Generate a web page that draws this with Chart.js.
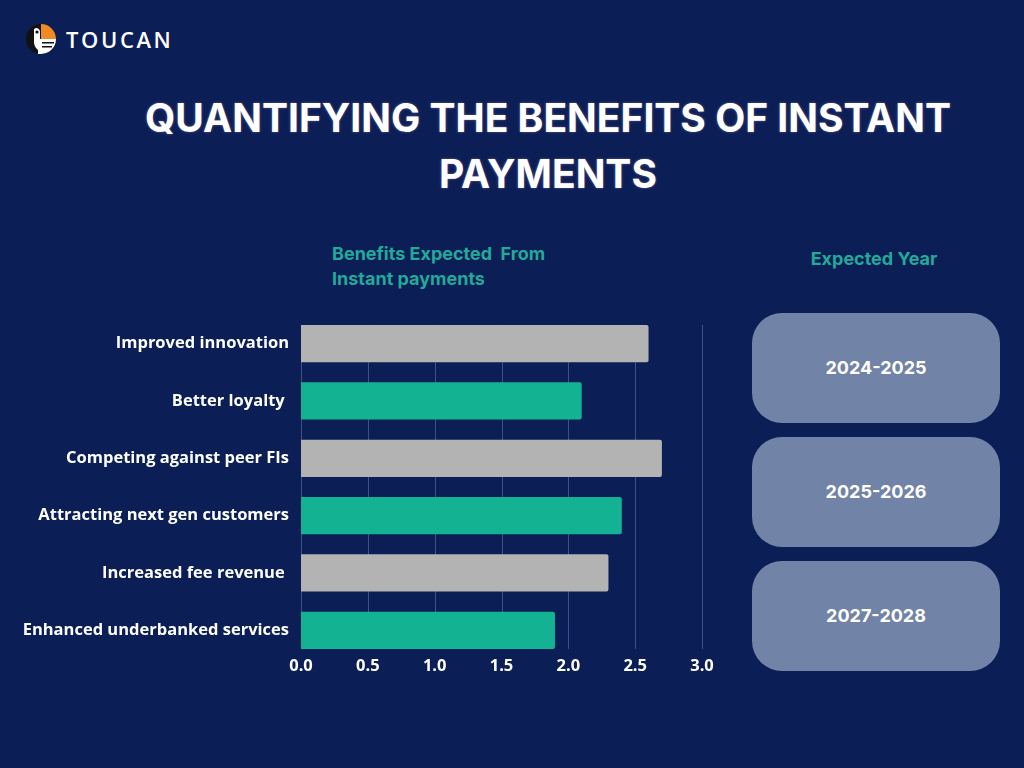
<!DOCTYPE html>
<html>
<head>
<meta charset="utf-8">
<script src="https://cdn.jsdelivr.net/npm/chart.js@4/dist/chart.umd.min.js"></script>
<style>
  html, body { margin:0; padding:0; }
  body { width:1024px; height:768px; background:#0b1e55; position:relative; overflow:hidden; font-family:Inter, "Open Sans", sans-serif; }
  .logo { position:absolute; left:25px; top:23px; width:32px; height:32px; }
  .brand { position:absolute; left:66px; top:24px; color:#fff; font:600 22px "Open Sans", Inter, sans-serif; letter-spacing:2.6px; }
  .title { position:absolute; left:0; width:1096px; top:90px; text-align:center; color:#fff; font:700 39px/56px Inter, sans-serif; text-shadow:0 0 3px rgba(255,200,255,0.35); }
  .sub { position:absolute; color:#23a99a; font:700 18px/25px Inter, sans-serif; }
  .box { position:absolute; left:752px; width:248px; height:110px; border-radius:30px; background:#7183a6; color:#fff; font:700 18px Inter, sans-serif; display:flex; align-items:center; justify-content:center; padding-bottom:2px; box-sizing:border-box; }
  #wrap { position:absolute; left:0; top:293px; width:724px; height:396px; }
</style>
</head>
<body>
<svg class="logo" viewBox="0 0 32 32">
  <circle cx="16" cy="16" r="15" fill="#111"/>
  <path d="M16 1 A15 15 0 0 1 31 16 L16 16 Z" fill="#f08a24"/>
  <path d="M13 16 L31 16 A15 15 0 0 1 16 31 L13 31 Z" fill="#fff"/>
  <path d="M9 6 Q13 3 15 8 L15 28 Q10 26 9 20 Z" fill="#fff"/>
  <circle cx="12" cy="9" r="1.6" fill="#111"/>
  <rect x="17" y="19" width="12" height="1.5" fill="#111"/>
  <rect x="17" y="23" width="10" height="1.5" fill="#111"/>
</svg>
<div class="brand">TOUCAN</div>
<div class="title">QUANTIFYING THE BENEFITS OF INSTANT<br>PAYMENTS</div>
<div class="sub" style="left:332px; top:241px;">Benefits Expected&nbsp; From<br>Instant payments</div>
<div class="sub" style="left:752px; width:244px; text-align:center; top:246px;">Expected Year</div>
<div id="boxes"></div>
<div id="wrap"><canvas id="c"></canvas></div>
<script>
const categories = [
  "Improved innovation",
  "Better loyalty ",
  "Competing against peer FIs",
  "Attracting next gen customers",
  "Increased fee revenue ",
  "Enhanced underbanked services"
];
const benefitValues = [2.6, 2.1, 2.7, 2.4, 2.3, 1.9];
const xTicks = [0, 0.5, 1, 1.5, 2, 2.5, 3];
const expectedYears = ["2024-2025", "2025-2026", "2027-2028"];

const GRAY = "#b3b3b3", TEAL = "#13b292";
const boxTops = [313, 437, 561];
const boxesEl = document.getElementById("boxes");
expectedYears.forEach((y, i) => {
  const d = document.createElement("div");
  d.className = "box";
  d.style.top = boxTops[i] + "px";
  d.textContent = y;
  boxesEl.appendChild(d);
});

const gridPlugin = {
  id: "shortGrid",
  beforeDatasetsDraw(chart) {
    const meta = chart.getDatasetMeta(0);
    const first = meta.data[0], last = meta.data[meta.data.length - 1];
    const top = first.y - first.height / 2;
    const bottom = last.y + last.height / 2;
    const ctx = chart.ctx, xs = chart.scales.x;
    ctx.save();
    ctx.strokeStyle = "rgba(160,175,215,0.35)";
    ctx.lineWidth = 1;
    xTicks.forEach(v => {
      const x = Math.round(xs.getPixelForValue(v)) + 0.5;
      ctx.beginPath();
      ctx.moveTo(x, top);
      ctx.lineTo(x, bottom);
      ctx.stroke();
    });
    ctx.restore();
  }
};

new Chart(document.getElementById("c"), {
  type: "bar",
  data: {
    labels: categories,
    datasets: [{
      data: benefitValues,
      backgroundColor: benefitValues.map((_, i) => i % 2 === 0 ? GRAY : TEAL),
      borderRadius: 2,
      borderSkipped: "left",
      barPercentage: 0.65,
      categoryPercentage: 1
    }]
  },
  options: {
    indexAxis: "y",
    responsive: true,
    maintainAspectRatio: false,
    animation: false,
    layout: { padding: { top: 0, right: 22, bottom: 0, left: 0 } },
    plugins: { legend: { display: false }, tooltip: { enabled: false } },
    scales: {
      x: {
        min: 0, max: 3,
        afterBuildTicks(scale) { scale.ticks = xTicks.map(v => ({ value: v })); },
        afterFit(scale) { scale.height = 30; },
        grid: { display: false, drawTicks: false },
        border: { display: false },
        ticks: {
          color: "#ffffff",
          padding: -3,
          font: { family: "'Open Sans'", weight: "bold", size: 16.5 },
          callback: v => Number(v).toFixed(1)
        }
      },
      y: {
        afterFit(scale) { scale.width = 301; },
        grid: { display: false, drawTicks: false },
        border: { display: false },
        ticks: {
          color: "#ffffff",
          padding: 12,
          font: { family: "'Open Sans'", weight: "bold", size: 16.5 }
        }
      }
    }
  },
  plugins: [gridPlugin]
});
</script>
</body>
</html>
